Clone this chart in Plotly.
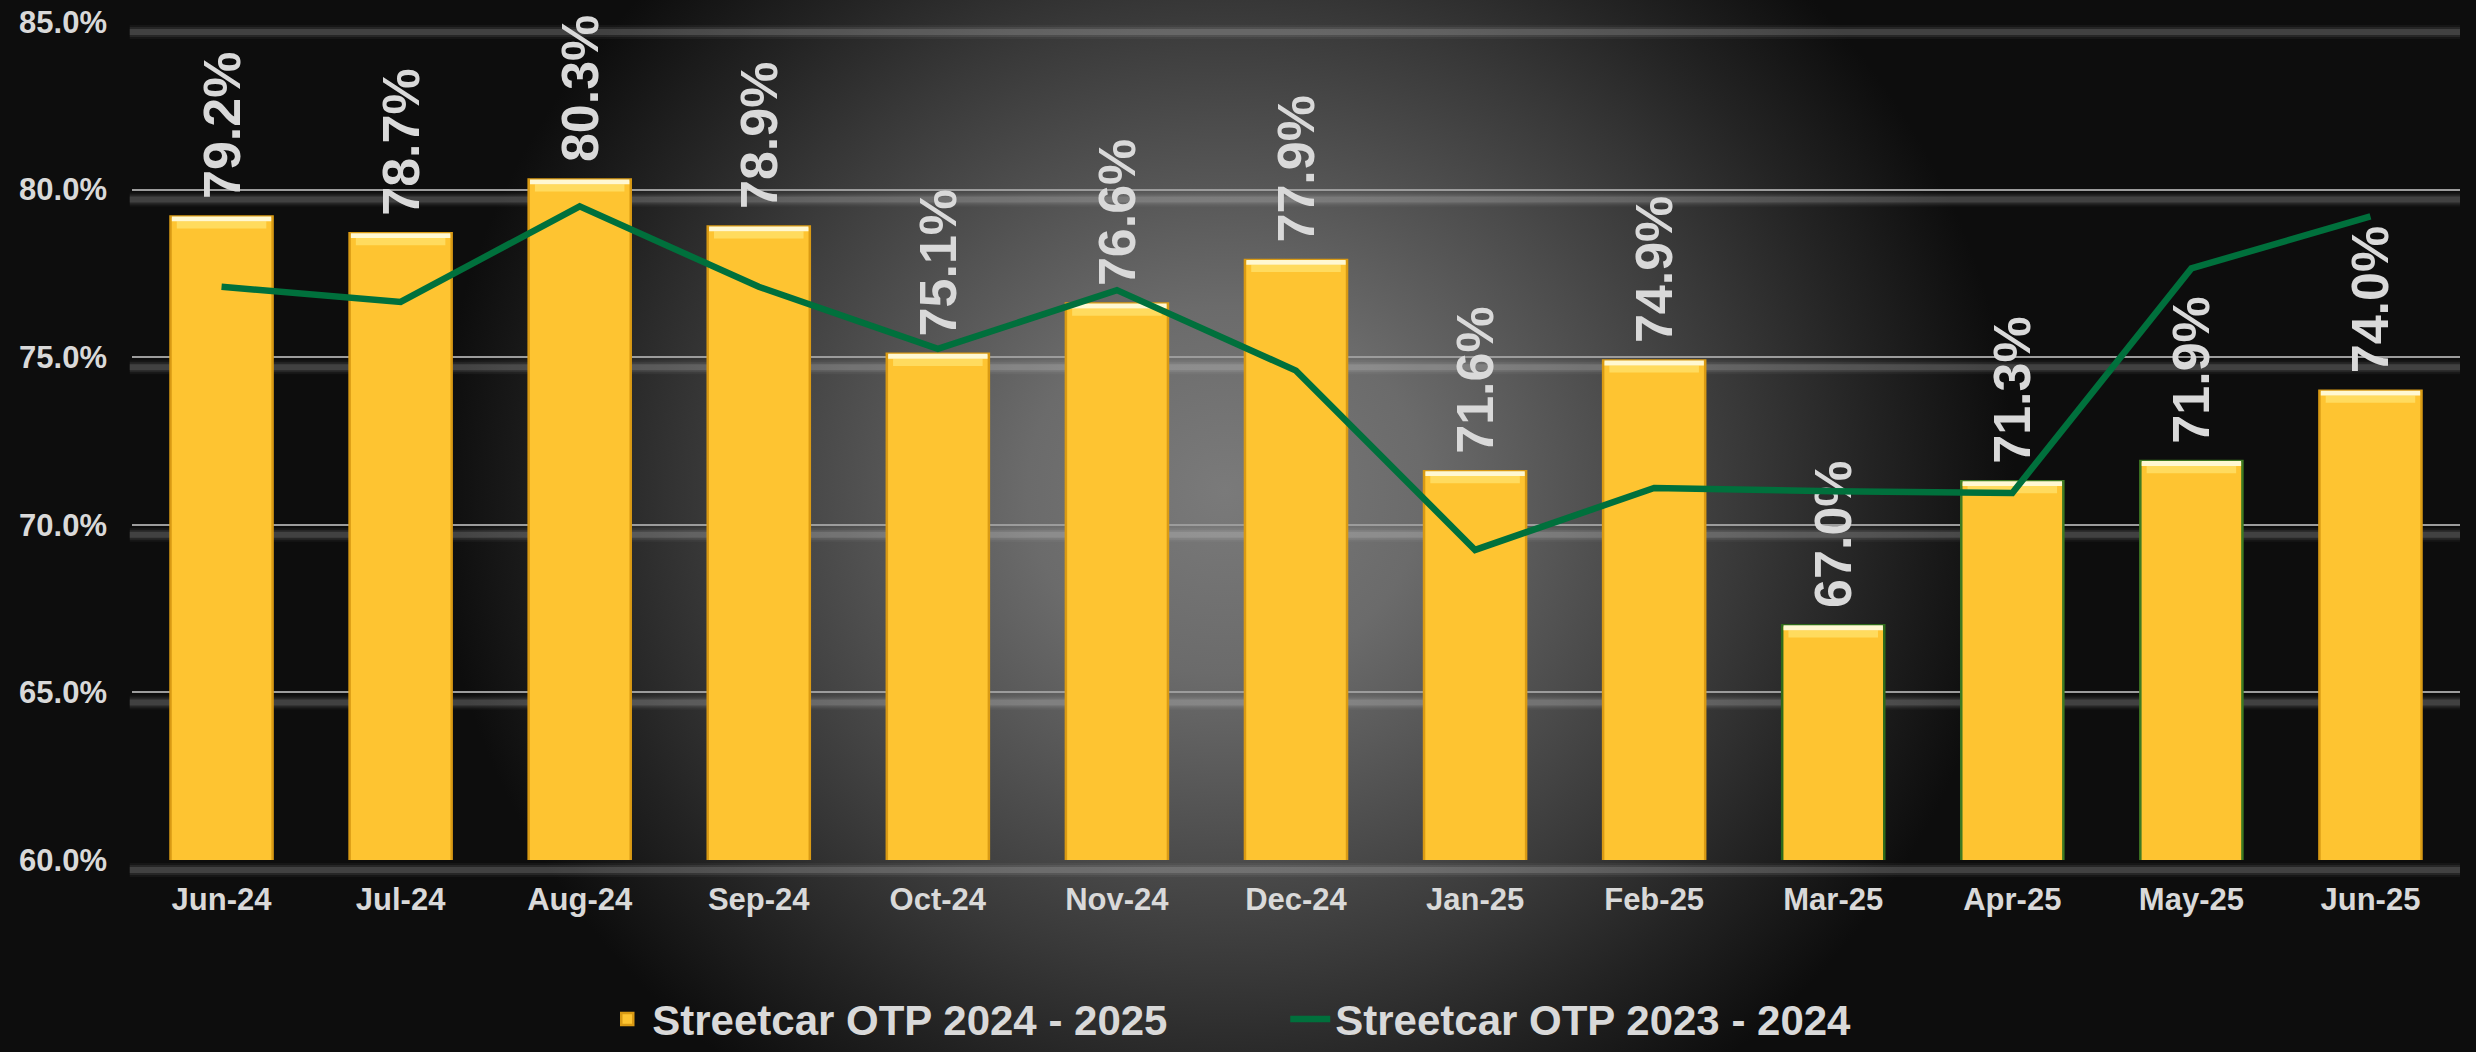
import base64
import plotly.graph_objects as go

# ---------------- data ----------------
months = ["Jun-24", "Jul-24", "Aug-24", "Sep-24", "Oct-24", "Nov-24", "Dec-24",
          "Jan-25", "Feb-25", "Mar-25", "Apr-25", "May-25", "Jun-25"]
otp_2024_25 = [79.2, 78.7, 80.3, 78.9, 75.1, 76.6, 77.9, 71.6, 74.9, 67.0, 71.3, 71.9, 74.0]
otp_2023_24 = [77.1, 76.65, 79.5, 77.1, 75.25, 77.0, 74.6, 69.25, 71.1, 71.0, 70.95, 77.65, 79.2]
y_ticks = [60, 65, 70, 75, 80, 85]
series_names = ["Streetcar OTP 2024 - 2025", "Streetcar OTP 2023 - 2024"]

# ---------------- style ----------------
W, H = 2476, 1052
ML, MR, MT, MB = 132, 16, 22, 192
YMIN, YMAX = 60, 85
FONT = "Liberation Sans, Arial, sans-serif"
TXT = "#d9d9d9"
GOLD = "#FEC431"
GREEN = "#00703C"
edge_colors = ["#D99A14"] * 9 + ["#2E6A1A", "#3E7A22", "#3E7A22", "#D99A14"]

# radial gradient background as an SVG image
svg = f'''<svg xmlns="http://www.w3.org/2000/svg" width="{W}" height="{H}" viewBox="0 0 {W} {H}">
<defs><radialGradient id="g" gradientUnits="userSpaceOnUse" cx="1225" cy="490" r="790"
 gradientTransform="translate(1225 490) scale(1 0.93) translate(-1225 -490)">
<stop offset="0" stop-color="#7a7a7a"/>
<stop offset="0.25" stop-color="#6b6b6b"/>
<stop offset="0.5" stop-color="#4c4c4c"/>
<stop offset="0.66" stop-color="#383838"/>
<stop offset="0.82" stop-color="#232323"/>
<stop offset="1" stop-color="#0d0d0d"/>
</radialGradient></defs>
<rect width="{W}" height="{H}" fill="#0d0d0d"/>
<rect width="{W}" height="{H}" fill="url(#g)"/>
</svg>'''
bg_src = "data:image/svg+xml;base64," + base64.b64encode(svg.encode()).decode()

pw = W - ML - MR
ph = H - MT - MB

fig = go.Figure()

# main bars
fig.add_trace(go.Bar(
    x=months, y=otp_2024_25, name=series_names[0],
    width=0.57,
    marker=dict(color=GOLD, line=dict(color=edge_colors, width=2.5)),
    texttemplate="\u00a0%{y:.1f}%", textposition="outside", textangle=-90,
    constraintext="none", cliponaxis=False,
    textfont=dict(family=FONT, size=52, color=TXT, weight="bold"),
    hoverinfo="skip",
))
# bevel highlight on bar tops (derived from bar values)
bev = 0.36
fig.add_trace(go.Bar(
    x=months, y=[bev * 0.6] * len(months), base=[v - bev for v in otp_2024_25],
    width=0.50, marker=dict(color="#FFDB5E", line=dict(width=0)),
    showlegend=False, hoverinfo="skip",
))
fig.add_trace(go.Bar(
    x=months, y=[bev * 0.4] * len(months), base=[v - bev * 0.4 for v in otp_2024_25],
    width=0.555, marker=dict(color="#FFF8D2", line=dict(width=0)),
    showlegend=False, hoverinfo="skip",
))
# line
fig.add_trace(go.Scatter(
    x=months, y=otp_2023_24, name=series_names[1], mode="lines",
    line=dict(color=GREEN, width=6.5), hoverinfo="skip",
))

# soft glow band under each gridline
shapes = []
for v in y_ticks:
    frac = (v - YMIN) / (YMAX - YMIN)
    for (a, b, op) in [(-7, -13, 0.13), (-5, -15, 0.07), (-3, -17, 0.04)]:
        shapes.append(dict(type="rect", xref="paper", x0=-0.001, x1=1.0,
                           yref="y domain", ysizemode="pixel", yanchor=frac,
                           y0=a, y1=b, fillcolor=f"rgba(255,255,255,{op})",
                           line=dict(width=0), layer="below"))

fig.update_layout(
    width=W, height=H,
    margin=dict(l=ML, r=MR, t=MT, b=MB, pad=0, autoexpand=False),
    paper_bgcolor="#0d0d0d", plot_bgcolor="rgba(0,0,0,0)",
    barmode="overlay",
    bargap=0.43,
    shapes=shapes,
    images=[dict(source=bg_src, xref="paper", yref="paper",
                 x=-ML / pw, y=1 + MT / ph, sizex=W / pw, sizey=H / ph,
                 xanchor="left", yanchor="top", sizing="stretch", layer="below")],
    font=dict(family=FONT, color=TXT),
    showlegend=True,
    legend=dict(orientation="h", x=0.202, xanchor="left", y=-0.19, yanchor="middle",
                font=dict(family=FONT, size=42, color=TXT, weight="bold"),
                bgcolor="rgba(0,0,0,0)", itemwidth=40, traceorder="normal",
                entrywidth=628, entrywidthmode="pixels"),
    xaxis=dict(showgrid=False, showline=False, zeroline=False, ticks="",
               tickfont=dict(family=FONT, size=31, color=TXT, weight="bold"),
               ticklabelstandoff=18),
    yaxis=dict(range=[YMIN, YMAX], tickvals=y_ticks, ticktext=[f"{t:.1f}%" for t in y_ticks],
               showgrid=True, gridcolor="#9c9c9c", gridwidth=1.5,
               showline=False, zeroline=False, ticks="",
               tickfont=dict(family=FONT, size=31, color=TXT, weight="bold"),
               ticklabelstandoff=24),
)

fig.write_html("out.html", config={"displayModeBar": False},
               post_script="document.body.style.margin='0';document.body.style.overflow='hidden';document.body.style.background='#0d0d0d';")
